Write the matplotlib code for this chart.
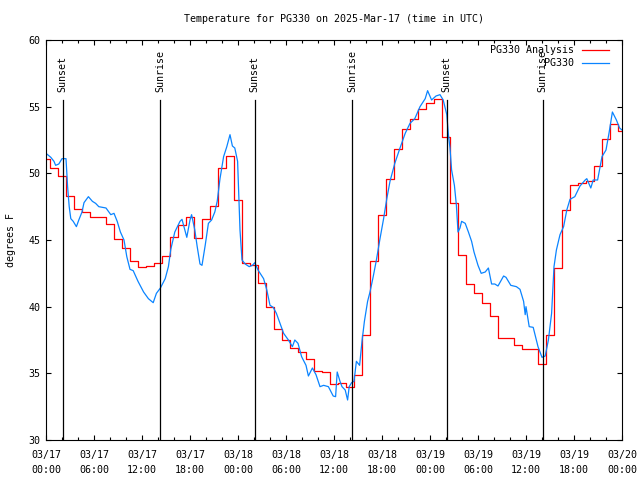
import matplotlib
matplotlib.use('Agg')
import matplotlib.pyplot as plt
from matplotlib.ticker import MultipleLocator

TITLE = 'Temperature for PG330 on 2025-Mar-17 (time in UTC)'

# hours since 03/17 00:00 UTC
analysis_hours = list(range(73))
analysis_temps = [
    51.1, 50.4, 49.8, 48.3, 47.3, 47.1, 46.7, 46.7, 46.2, 45.1,
    44.4, 43.4, 43.0, 43.05, 43.3, 43.8, 45.2, 46.1, 46.7, 45.15,
    46.6, 47.55, 50.4, 51.3, 48.0, 43.25, 43.1, 41.75, 40.0, 38.3,
    37.5, 36.9, 36.6, 36.1, 35.2, 35.1, 34.2, 34.25, 33.95, 34.9,
    37.9, 43.45, 46.9, 49.6, 51.8, 53.3, 54.1, 54.8, 55.3, 55.55,
    52.7, 47.75, 43.9, 41.7, 41.06, 40.27, 39.3, 37.67, 37.67, 37.1,
    36.8, 36.8, 35.7, 37.9, 42.9, 47.25, 49.1, 49.3, 49.4, 50.55,
    52.55, 53.7, 53.2,
]

obs_hours = [
    0.0, 0.6, 1.0, 1.2, 1.6, 2.0, 2.5, 2.7, 2.9, 3.1,
    3.4, 3.8, 4.1, 4.5, 4.75, 5.3, 5.8, 6.2, 6.6, 7.5,
    8.1, 8.5, 8.9, 9.3, 9.75, 10.1, 10.5, 10.9, 11.5, 12.2,
    12.8, 13.4, 13.8, 14.3, 14.9, 15.3, 15.6, 16.1, 16.75, 17.0,
    17.6, 18.0, 18.2, 18.6, 18.9, 19.25, 19.5, 19.9, 20.3, 20.7,
    21.1, 21.4, 21.75, 22.2, 22.6, 23.0, 23.3, 23.6, 23.95, 24.25,
    24.5, 24.9, 25.4, 25.8, 26.1, 26.5, 27.2, 27.6, 28.0, 28.4,
    28.8, 29.25, 29.7, 30.3, 30.8, 31.1, 31.5, 31.95, 32.5, 32.8,
    33.3, 33.75, 34.25, 34.7, 35.3, 35.9, 36.2, 36.4, 36.75, 37.0,
    37.4, 37.7, 37.9, 38.2, 38.5, 38.8, 39.2, 39.5, 39.8, 40.2,
    40.5, 40.9, 41.3, 41.75, 42.2, 42.6, 43.0, 43.6, 44.25, 44.9,
    45.5, 46.1, 46.75, 47.4, 47.7, 48.2, 48.75, 49.25, 49.65, 50.1,
    50.3, 50.5, 50.7, 51.05, 51.3, 51.5, 51.75, 51.95, 52.4, 52.8,
    53.2, 53.5, 54.0, 54.4, 54.9, 55.3, 55.7, 56.1, 56.5, 57.2,
    57.5, 58.1, 58.8, 59.25, 59.7, 59.9, 60.0, 60.4, 60.9, 61.5,
    62.0, 62.4, 62.8, 63.2, 63.5, 63.8, 64.25, 64.7, 65.1, 65.5,
    66.1, 66.75, 67.4, 67.6, 68.1, 68.4, 68.95, 69.5, 70.0, 70.4,
    70.8, 71.3, 71.7, 72.0,
]
obs_temps = [
    51.5, 51.2, 50.9, 50.6, 50.7, 51.1, 51.1, 49.0, 47.5, 46.6,
    46.4, 46.0, 46.5, 47.1, 47.8, 48.25, 47.9, 47.75, 47.5, 47.4,
    46.9, 47.0, 46.4, 45.6, 45.0, 43.75, 42.8, 42.7, 41.9, 41.1,
    40.6, 40.3, 41.0, 41.4, 42.1, 43.0, 44.3, 45.6, 46.4, 46.55,
    45.2, 46.5, 46.9, 45.75, 44.5, 43.2, 43.1, 44.6, 46.25, 46.5,
    47.1, 47.9, 49.6, 51.25, 52.0, 52.9, 52.05, 51.9, 50.9, 45.75,
    43.5, 43.2, 43.0, 43.1, 43.3, 42.75, 42.1, 41.25, 40.1, 39.95,
    39.5, 38.75, 38.0, 37.5, 37.0, 37.5, 37.25, 36.25, 35.6, 34.8,
    35.4, 34.9, 34.0, 34.1, 34.0, 33.3, 33.25, 35.1, 34.4, 34.0,
    33.75, 33.0, 34.0, 34.3, 34.4, 35.9, 35.6, 37.4, 38.9, 40.4,
    41.1, 42.25, 43.5, 45.1, 46.6, 48.1, 49.4, 50.75, 51.9, 53.0,
    53.75, 54.1, 55.0, 55.6, 56.2, 55.5, 55.8, 55.9, 55.5, 54.4,
    52.9, 51.9, 50.25, 49.1, 47.6, 45.6, 45.9, 46.4, 46.25, 45.6,
    44.9, 44.1, 43.1, 42.5, 42.6, 42.9, 41.7, 41.7, 41.55, 42.3,
    42.2, 41.6, 41.5, 41.3, 40.4, 39.4, 40.0, 38.5, 38.45, 37.0,
    36.2, 36.3, 37.5, 39.5, 43.0, 44.25, 45.4, 46.0, 47.25, 48.05,
    48.25, 49.05, 49.5, 49.6, 48.9, 49.5, 49.5, 51.25, 51.75, 53.1,
    54.6, 54.0, 53.4, 53.25,
]

sun_hours = [2.1, 14.25, 26.1, 38.25, 50.1, 62.1]
sun_labels = ['Sunset', 'Sunrise', 'Sunset', 'Sunrise', 'Sunset', 'Sunrise']

tick_hours = [0, 6, 12, 18, 24, 30, 36, 42, 48, 54, 60, 66, 72]
tick_labels = [
    '03/17\n00:00', '03/17\n06:00', '03/17\n12:00', '03/17\n18:00',
    '03/18\n00:00', '03/18\n06:00', '03/18\n12:00', '03/18\n18:00',
    '03/19\n00:00', '03/19\n06:00', '03/19\n12:00', '03/19\n18:00',
    '03/20\n00:00',
]


def main():
    plt.rcParams['font.family'] = ['DejaVu Sans Mono']
    plt.rcParams['font.size'] = 7.2

    fig = plt.figure(figsize=(6.4, 4.8), dpi=100)
    ax = fig.add_axes([46 / 640, 40 / 480, 576 / 640, 400 / 480])

    red, = ax.step(analysis_hours, analysis_temps, where='mid',
                   color='#ff0000', linewidth=0.9)
    blue, = ax.plot(obs_hours, obs_temps, color='#0a84ff', linewidth=0.9)

    for hour, label in zip(sun_hours, sun_labels):
        ax.plot([hour, hour], [30, 55.5], color='black', linewidth=0.9)
        ax.text(hour, 56.1, label, rotation=90, ha='center', va='bottom')

    ax.set_xlim(0, 72)
    ax.set_ylim(30, 60)
    ax.set_xticks(tick_hours)
    ax.set_xticklabels(tick_labels)
    for lab in ax.get_xticklabels():
        lab.set_linespacing(1.65)
    ax.xaxis.set_minor_locator(MultipleLocator(2))
    ax.yaxis.set_major_locator(MultipleLocator(5))
    ax.tick_params(which='both', direction='in', top=True, right=True,
                   width=0.8, colors='black')
    ax.tick_params(which='major', length=3.3)
    ax.tick_params(which='minor', length=2.0)
    ax.tick_params(axis='x', pad=7)
    ax.tick_params(axis='y', pad=4)
    for spine in ax.spines.values():
        spine.set_linewidth(0.8)

    # legend, gnuplot style: text right-aligned, sample to the right
    for ypos, label, line in ((0.975, 'PG330 Analysis', red), (0.9425, 'PG330', blue)):
        ax.text(0.9167, ypos, label, transform=ax.transAxes, ha='right', va='center')
        ax.plot([0.930, 0.977], [ypos, ypos], transform=ax.transAxes,
                color=line.get_color(), linewidth=0.9, clip_on=False)

    fig.text(333.5 / 640, 1 - 19 / 480, TITLE, ha='center', va='center')
    fig.text(11.5 / 640, 0.5, 'degrees F', rotation=90, ha='center', va='center')

    fig.savefig('out.png', dpi=100)
    plt.close(fig)


if __name__ == '__main__':
    main()
